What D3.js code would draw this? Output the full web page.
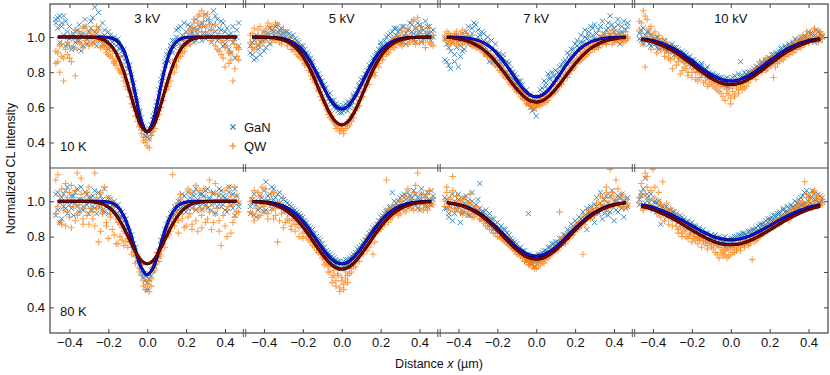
<!DOCTYPE html>
<html>
<head>
<meta charset="utf-8">
<script src="https://cdn.jsdelivr.net/npm/d3@7"></script>
<style>
  body { margin: 0; background: #fff; }
  text { font-family: "Liberation Sans", Arial, sans-serif; fill: #111; }
</style>
</head>
<body>
<svg width="830" height="375"></svg>
<script>
// ---- data ----
var voltages = ["3 kV", "5 kV", "7 kV", "10 kV"];
var temps = ["10 K", "80 K"];
var xTicks = [-0.4, -0.2, 0, 0.2, 0.4];
var yTicks = [0.4, 0.6, 0.8, 1.0];

// scan positions (µm); two line scans per series share them
var xs = [
  -0.47,-0.46,-0.45,-0.44,-0.43,-0.42,-0.41,-0.40,-0.39,-0.38,-0.37,-0.36,-0.35,-0.34,-0.33,-0.32,-0.31,-0.30,-0.29,
  -0.28,-0.27,-0.26,-0.25,-0.24,-0.23,-0.22,-0.21,-0.20,-0.19,-0.18,-0.17,-0.16,-0.15,-0.14,-0.13,-0.12,-0.11,-0.10,
  -0.09,-0.08,-0.07,-0.06,-0.05,-0.04,-0.03,-0.02,-0.01,0,0.01,0.02,0.03,0.04,0.05,0.06,0.07,0.08,0.09,
  0.10,0.11,0.12,0.13,0.14,0.15,0.16,0.17,0.18,0.19,0.20,0.21,0.22,0.23,0.24,0.25,0.26,0.27,0.28,
  0.29,0.30,0.31,0.32,0.33,0.34,0.35,0.36,0.37,0.38,0.39,0.40,0.41,0.42,0.43,0.44,0.45,0.46,0.47
];

// ===== 10 K =====
var gan10K_3kV = [
  1.08,1.11,0.97,1.06,1.12,0.95,1.03,0.99,0.93,1.02,0.97,1.04,0.98,1.01,0.95,1.06,0.99,1.03,1.09,
  0.97,1.17,1.02,1.05,0.98,1.08,1.01,0.96,1.03,0.99,0.97,1.00,0.95,0.96,0.93,0.92,0.90,0.86,0.84,
  0.80,0.75,0.70,0.65,0.60,0.57,0.50,0.47,0.44,0.47,0.42,0.50,0.53,0.56,0.63,0.66,0.73,0.80,0.84,
  0.87,0.92,0.95,0.91,0.98,1.04,0.96,1.06,1.01,0.97,1.03,1.07,0.99,1.02,1.05,0.98,1.04,1.00,1.08,
  1.02,0.99,1.10,1.04,1.01,1.07,1.12,0.98,1.05,1.09,0.95,1.03,0.99,0.93,1.02,0.97,0.88,1.00,0.95
];
var gan10K_3kV_B = [
  1.10,1.05,1.12,1.08,1.01,1.09,0.96,1.06,1.00,0.94,1.03,0.98,1.07,0.92,1.02,1.10,0.96,1.00,1.05,
  1.11,1.03,0.95,1.14,1.00,0.96,1.04,0.99,0.93,1.01,0.95,0.98,0.92,0.99,0.94,0.89,0.93,0.88,0.82,
  0.84,0.79,0.74,0.69,0.64,0.58,0.54,0.49,0.46,0.43,0.48,0.45,0.55,0.59,0.61,0.70,0.76,0.77,0.86,
  0.90,0.86,0.93,0.98,0.94,1.00,1.05,0.99,0.95,1.08,1.00,0.96,1.06,1.03,0.97,1.10,1.02,1.06,0.98,
  1.06,1.13,1.01,1.08,0.97,1.15,1.03,1.10,0.99,1.04,1.08,0.96,1.05,1.01,0.91,1.06,0.99,1.04,1.08
];
var qw10K_3kV = [
  0.92,0.86,0.95,0.89,0.75,0.93,0.97,0.88,1.01,0.94,0.78,0.99,1.03,0.96,1.05,0.98,1.02,0.95,1.04,
  1.00,0.97,1.06,0.99,0.94,0.98,0.95,0.93,0.90,0.94,0.88,0.85,0.87,0.82,0.80,0.79,0.75,0.72,0.70,
  0.66,0.62,0.60,0.55,0.52,0.49,0.45,0.43,0.40,0.44,0.37,0.47,0.46,0.51,0.53,0.58,0.60,0.66,0.70,
  0.74,0.72,0.79,0.83,0.80,0.86,0.91,0.89,0.95,0.92,0.98,1.02,0.96,1.05,1.08,1.01,1.12,1.06,1.15,
  1.09,1.03,1.13,1.07,0.98,1.04,0.95,1.00,0.92,0.97,0.88,0.94,0.99,0.85,0.91,0.75,0.96,0.89,0.93
];
var qw10K_3kV_B = [
  0.85,0.91,0.80,0.96,0.88,1.00,0.90,0.95,0.86,0.99,1.04,0.93,0.97,1.02,0.94,1.06,1.00,0.97,1.01,
  0.96,1.03,0.98,1.04,1.00,0.95,0.99,0.91,0.96,0.89,0.92,0.86,0.84,0.89,0.81,0.84,0.77,0.79,0.74,
  0.70,0.68,0.63,0.58,0.56,0.50,0.47,0.41,0.43,0.38,0.42,0.44,0.49,0.48,0.55,0.56,0.63,0.64,0.72,
  0.70,0.77,0.75,0.86,0.84,0.83,0.88,0.94,0.91,1.00,0.95,0.99,1.04,1.00,1.10,1.04,1.08,1.13,1.03,
  1.12,1.06,1.01,1.10,1.04,0.99,1.07,0.93,1.02,0.90,0.98,0.83,0.95,0.91,0.87,0.98,0.82,0.94,0.87
];
var gan10K_5kV = [
  0.95,0.90,0.98,0.88,0.93,0.97,1.00,0.92,0.99,1.02,0.96,1.04,1.01,1.06,1.03,0.99,1.05,1.02,1.00,
  1.03,0.98,1.00,0.96,0.99,0.94,0.97,0.92,0.95,0.90,0.91,0.86,0.88,0.83,0.82,0.78,0.79,0.74,0.75,
  0.70,0.68,0.67,0.63,0.64,0.60,0.62,0.58,0.60,0.57,0.61,0.59,0.63,0.60,0.64,0.67,0.65,0.70,0.72,
  0.74,0.77,0.76,0.81,0.84,0.82,0.88,0.86,0.91,0.93,0.95,0.92,0.98,0.96,1.01,0.97,1.03,0.99,1.05,
  1.00,1.04,0.97,1.06,1.02,0.99,1.08,1.03,0.98,1.05,1.01,1.07,0.97,1.04,1.00,1.06,1.02,0.98,1.04
];
var gan10K_5kV_B = [
  0.91,0.97,0.87,1.01,0.95,0.90,0.98,1.03,0.94,1.00,1.05,0.99,1.03,1.00,1.07,1.04,1.01,0.98,1.03,
  0.99,1.02,0.97,1.01,0.94,0.98,0.93,0.95,0.90,0.93,0.88,0.90,0.85,0.86,0.80,0.81,0.76,0.77,0.72,
  0.73,0.71,0.65,0.68,0.62,0.64,0.59,0.61,0.57,0.60,0.58,0.62,0.58,0.63,0.61,0.66,0.68,0.67,0.73,
  0.76,0.73,0.79,0.78,0.80,0.85,0.84,0.89,0.90,0.88,0.97,0.95,0.93,1.00,0.96,1.02,0.99,1.05,1.01,
  1.03,0.97,1.06,1.01,0.96,1.04,1.00,1.07,1.02,0.97,1.08,1.03,1.05,0.99,1.09,1.01,1.06,1.03,1.00
];
var qw10K_5kV = [
  0.97,1.02,0.93,0.99,1.04,0.95,1.01,0.97,1.05,1.08,1.00,1.06,1.03,0.98,1.07,1.02,0.96,1.04,0.99,
  0.97,1.00,0.93,0.96,0.92,0.95,0.89,0.91,0.87,0.85,0.86,0.81,0.80,0.76,0.77,0.71,0.70,0.66,0.67,
  0.62,0.59,0.58,0.54,0.55,0.51,0.50,0.49,0.46,0.48,0.45,0.50,0.49,0.53,0.52,0.56,0.58,0.60,0.64,
  0.66,0.69,0.72,0.73,0.77,0.78,0.79,0.80,0.84,0.85,0.88,0.89,0.92,0.90,0.95,0.93,0.96,0.94,0.99,
  0.97,1.01,0.95,0.98,1.03,0.96,1.00,1.09,0.98,1.05,1.11,0.97,1.02,0.99,0.94,1.03,0.97,1.00,0.95
];
var qw10K_5kV_B = [
  1.01,0.94,1.05,0.96,1.00,1.06,0.98,1.03,0.99,1.02,1.06,0.97,1.04,1.08,1.01,0.97,1.03,0.99,1.02,
  0.95,0.98,0.96,0.93,0.97,0.90,0.93,0.88,0.90,0.84,0.87,0.83,0.78,0.80,0.74,0.75,0.69,0.72,0.64,
  0.64,0.61,0.56,0.57,0.53,0.52,0.48,0.50,0.47,0.50,0.47,0.48,0.51,0.50,0.55,0.54,0.59,0.62,0.61,
  0.68,0.66,0.70,0.75,0.73,0.80,0.82,0.78,0.86,0.83,0.90,0.87,0.94,0.92,0.91,0.97,0.95,0.99,0.96,
  1.00,0.96,1.04,0.98,1.01,1.05,0.97,1.02,1.10,0.96,1.03,1.00,1.06,0.97,1.02,0.99,1.05,0.96,1.01
];
var gan10K_7kV = [
  0.99,0.86,0.94,0.82,0.97,0.90,1.01,0.83,0.95,0.92,0.99,1.03,0.96,1.00,1.05,1.08,0.98,1.04,1.01,
  0.95,1.02,0.90,0.97,0.86,0.93,0.89,0.96,0.84,0.91,0.85,0.88,0.80,0.86,0.78,0.82,0.76,0.79,0.74,
  0.72,0.75,0.69,0.66,0.70,0.63,0.67,0.58,0.64,0.55,0.62,0.66,0.71,0.68,0.74,0.70,0.77,0.73,0.78,
  0.76,0.80,0.78,0.84,0.82,0.87,0.85,0.90,0.88,0.93,0.90,0.95,0.92,0.97,0.94,1.00,0.96,1.03,0.98,
  1.05,0.99,1.02,0.95,1.06,1.00,0.97,1.04,1.08,1.12,0.99,1.05,1.01,1.07,0.96,1.03,1.09,1.00,1.06
];
var gan10K_7kV_B = [
  0.87,0.96,0.84,0.92,1.00,0.86,0.94,0.98,0.89,1.02,0.93,0.97,1.06,0.99,1.02,0.96,1.07,1.00,0.95,
  1.03,0.98,0.94,1.00,0.91,0.98,0.86,0.92,0.89,0.87,0.82,0.90,0.84,0.80,0.85,0.77,0.80,0.74,0.77,
  0.75,0.70,0.73,0.68,0.65,0.62,0.60,0.64,0.59,0.63,0.66,0.70,0.67,0.75,0.72,0.79,0.76,0.80,0.74,
  0.81,0.77,0.83,0.80,0.86,0.85,0.91,0.87,0.93,0.89,0.96,0.98,0.94,1.01,0.97,1.04,0.99,1.01,1.06,
  1.01,1.07,0.98,1.04,1.00,1.09,1.02,0.97,1.05,1.01,1.07,1.03,0.98,1.10,1.02,1.06,0.99,1.04,1.08
];
var qw10K_7kV = [
  0.99,1.03,0.97,1.01,0.98,1.02,0.96,1.00,0.99,1.04,0.97,0.98,1.01,0.96,0.99,0.95,0.97,0.94,0.96,
  0.93,0.91,0.92,0.89,0.90,0.86,0.88,0.84,0.85,0.81,0.83,0.78,0.80,0.76,0.77,0.73,0.74,0.70,0.71,
  0.68,0.69,0.65,0.66,0.62,0.64,0.61,0.63,0.60,0.62,0.64,0.61,0.65,0.63,0.66,0.64,0.68,0.67,0.70,
  0.69,0.73,0.72,0.76,0.75,0.79,0.77,0.82,0.81,0.85,0.83,0.87,0.86,0.90,0.88,0.92,0.90,0.94,0.93,
  0.95,0.93,0.97,0.94,0.98,0.96,1.00,0.97,0.99,1.02,0.96,1.01,0.98,1.03,0.99,0.97,1.01,0.98,1.00
];
var qw10K_7kV_B = [
  1.01,0.98,1.02,0.96,1.00,0.97,1.03,0.98,1.01,0.96,0.99,1.02,0.97,0.98,0.95,0.98,0.94,0.96,0.93,
  0.95,0.92,0.90,0.92,0.88,0.89,0.85,0.87,0.83,0.84,0.80,0.82,0.77,0.79,0.74,0.76,0.72,0.73,0.69,
  0.70,0.66,0.68,0.64,0.66,0.62,0.64,0.61,0.63,0.60,0.62,0.64,0.62,0.66,0.63,0.67,0.66,0.69,0.68,
  0.72,0.70,0.75,0.73,0.77,0.78,0.80,0.79,0.83,0.82,0.86,0.85,0.88,0.87,0.91,0.89,0.93,0.91,0.95,
  0.93,0.96,0.95,0.99,0.97,1.01,0.98,0.96,1.02,0.99,1.04,0.97,1.00,0.98,1.02,1.00,0.97,1.03,0.99
];
var gan10K_10kV = [
  1.02,0.98,1.05,0.99,1.03,0.96,1.01,0.97,0.99,0.94,0.98,0.95,0.97,0.93,0.96,0.92,0.95,0.91,0.94,
  0.90,0.93,0.89,0.92,0.87,0.90,0.86,0.89,0.84,0.87,0.83,0.85,0.82,0.84,0.80,0.82,0.78,0.80,0.77,
  0.79,0.76,0.78,0.74,0.77,0.73,0.76,0.72,0.75,0.74,0.77,0.73,0.76,0.75,0.86,0.77,0.75,0.79,0.77,
  0.80,0.78,0.82,0.80,0.83,0.81,0.85,0.83,0.86,0.84,0.88,0.86,0.90,0.87,0.91,0.89,0.93,0.91,0.94,
  0.92,0.95,0.93,0.96,0.94,0.97,0.95,0.98,0.96,1.00,0.97,0.99,1.02,0.98,1.01,0.99,1.03,0.98,1.00
];
var gan10K_10kV_B = [
  0.99,1.04,0.96,1.01,0.98,1.03,0.95,0.99,0.96,1.00,0.93,0.97,0.94,0.98,0.92,0.95,0.93,0.96,0.90,
  0.94,0.91,0.88,0.90,0.91,0.87,0.88,0.85,0.87,0.83,0.86,0.81,0.83,0.85,0.79,0.81,0.83,0.77,0.79,
  0.77,0.78,0.75,0.77,0.74,0.76,0.73,0.77,0.72,0.76,0.74,0.78,0.74,0.79,0.77,0.78,0.80,0.76,0.80,
  0.78,0.81,0.80,0.83,0.81,0.84,0.86,0.82,0.87,0.85,0.88,0.90,0.87,0.91,0.88,0.92,0.94,0.90,0.95,
  0.93,0.96,0.94,0.97,0.99,0.95,0.98,1.00,0.97,1.01,0.98,1.03,0.99,1.02,0.97,1.04,1.00,1.02,1.01
];
var qw10K_10kV = [
  1.04,1.08,1.15,0.83,1.10,1.02,1.06,0.99,1.03,0.97,1.01,0.95,0.99,0.93,0.97,0.88,0.94,0.82,0.91,
  0.84,0.89,0.79,0.87,0.83,0.85,0.78,0.84,0.80,0.82,0.76,0.80,0.77,0.79,0.74,0.78,0.72,0.76,0.74,
  0.72,0.75,0.70,0.73,0.68,0.72,0.64,0.70,0.67,0.62,0.69,0.66,0.71,0.68,0.73,0.70,0.75,0.72,0.78,
  0.76,0.80,0.78,0.82,0.79,0.86,0.80,0.84,0.88,0.82,0.86,0.84,0.77,0.87,0.85,0.89,0.88,0.91,0.89,
  0.93,0.90,0.94,0.91,0.95,0.93,0.97,0.94,0.98,0.96,1.00,0.97,1.02,0.99,1.04,0.98,1.03,1.00,0.99
];
var qw10K_10kV_B = [
  1.09,1.02,0.96,1.12,1.00,1.05,0.93,1.01,0.97,0.91,0.99,0.93,0.96,0.89,0.94,0.91,0.87,0.93,0.88,
  0.91,0.86,0.88,0.81,0.86,0.82,0.80,0.86,0.77,0.83,0.80,0.75,0.81,0.77,0.80,0.75,0.77,0.73,0.77,
  0.75,0.71,0.74,0.69,0.72,0.66,0.73,0.68,0.71,0.65,0.72,0.67,0.74,0.70,0.72,0.74,0.71,0.76,0.74,
  0.79,0.77,0.81,0.76,0.80,0.83,0.82,0.85,0.81,0.87,0.84,0.89,0.86,0.83,0.88,0.86,0.91,0.87,0.92,
  0.90,0.95,0.92,0.96,0.93,0.98,0.95,1.00,0.96,0.99,1.03,0.97,1.01,0.98,1.05,1.00,0.97,1.03,1.01
];

// ===== 80 K =====
var gan80K_3kV = [
  1.04,0.95,0.88,1.02,0.97,1.06,0.93,1.00,0.96,1.03,0.99,1.07,0.94,1.01,0.97,1.05,0.98,1.02,0.95,
  1.03,0.96,1.00,1.05,0.97,1.01,0.94,0.99,1.02,0.96,0.98,0.94,0.97,0.93,0.95,0.91,0.92,0.87,0.85,
  0.83,0.78,0.76,0.70,0.67,0.64,0.60,0.57,0.55,0.50,0.56,0.58,0.61,0.63,0.67,0.72,0.75,0.80,0.84,
  0.87,0.90,0.89,0.94,0.92,0.98,0.95,1.00,0.97,1.03,0.99,0.96,1.02,0.98,1.05,0.95,1.01,0.97,1.04,
  0.99,1.06,0.96,1.02,0.98,1.04,0.93,1.00,1.07,0.97,1.03,0.95,1.01,1.08,0.98,1.04,0.92,1.00,0.97
];
var gan80K_3kV_B = [
  0.92,1.05,0.99,0.90,1.04,0.96,1.08,0.98,1.03,0.92,1.05,0.97,1.01,1.08,0.95,1.00,1.04,0.93,1.02,
  0.97,1.06,0.93,0.99,1.03,0.95,1.07,0.97,0.93,1.01,0.96,1.00,0.93,0.98,0.91,0.94,0.89,0.90,0.84,
  0.80,0.81,0.73,0.74,0.69,0.66,0.63,0.59,0.58,0.54,0.59,0.61,0.64,0.66,0.70,0.69,0.78,0.77,0.81,
  0.84,0.88,0.93,0.91,0.97,0.94,1.00,0.96,1.04,0.98,0.94,1.05,1.00,0.96,1.03,1.07,0.99,1.04,0.95,
  1.03,0.98,1.07,1.01,0.95,1.05,1.00,0.97,1.03,1.06,0.98,1.02,0.94,1.05,1.00,0.96,1.07,1.03,0.99
];
var qw80K_3kV = [
  0.93,1.15,0.88,1.07,0.95,0.86,1.02,0.91,1.09,0.97,0.89,1.16,0.94,1.04,0.87,1.01,0.92,1.08,0.96,
  0.90,1.16,0.96,0.77,1.05,0.93,0.99,0.86,1.02,0.91,0.84,0.97,0.76,0.88,0.80,0.85,0.75,0.82,0.79,
  0.77,0.74,0.71,0.69,0.66,0.62,0.58,0.55,0.50,0.53,0.49,0.56,0.60,0.64,0.68,0.66,0.72,0.76,0.80,
  0.84,0.81,0.90,1.15,0.86,0.95,0.89,1.02,0.93,0.85,0.98,0.91,1.05,0.87,0.96,1.09,0.83,1.00,0.92,
  1.07,0.88,0.97,1.12,0.84,0.99,0.93,1.04,0.89,0.75,1.01,0.86,0.95,1.08,0.82,0.98,0.91,1.03,0.94
];
var qw80K_3kV_B = [
  1.12,0.97,1.03,0.87,0.99,1.10,0.94,1.05,0.85,1.00,1.06,0.92,0.98,1.13,0.90,0.96,1.05,0.87,1.01,
  0.94,0.86,1.02,0.97,0.83,0.95,1.08,0.88,0.79,0.93,0.99,0.81,0.90,0.76,0.87,0.78,0.83,0.77,0.74,
  0.80,0.70,0.74,0.65,0.69,0.60,0.64,0.52,0.57,0.50,0.55,0.52,0.63,0.61,0.71,0.70,0.69,0.79,0.74,
  0.80,0.87,0.83,0.92,0.88,0.97,0.82,1.04,0.90,0.96,0.86,1.07,0.93,0.84,1.00,0.89,0.95,1.06,0.85,
  0.96,1.02,0.90,0.94,1.05,0.88,1.10,0.96,0.83,1.00,0.92,1.06,0.80,0.97,1.03,0.88,1.08,0.94,0.99
];
var gan80K_5kV = [
  0.97,1.01,0.92,0.98,0.95,1.03,0.99,0.94,1.11,1.00,1.04,0.96,1.07,1.02,0.98,1.05,0.97,1.01,0.95,
  0.99,0.93,0.97,0.91,0.95,0.90,0.93,0.88,0.91,0.86,0.88,0.83,0.85,0.80,0.82,0.77,0.79,0.74,0.76,
  0.71,0.72,0.68,0.70,0.66,0.68,0.64,0.66,0.62,0.65,0.63,0.67,0.64,0.68,0.66,0.70,0.69,0.73,0.71,
  0.75,0.74,0.78,0.80,0.79,0.83,0.82,0.86,0.85,0.89,0.88,0.92,0.90,0.94,0.92,0.96,1.05,0.97,0.99,
  0.95,1.02,0.97,1.04,0.99,0.96,1.03,1.00,1.06,0.98,1.02,0.95,1.04,1.00,0.97,1.05,1.01,0.98,1.03
];
var gan80K_5kV_B = [
  0.93,0.99,1.04,0.91,1.00,0.96,1.02,1.06,0.95,1.03,0.99,1.08,1.01,0.97,1.04,0.99,1.02,0.96,1.00,
  0.95,0.98,0.94,0.96,0.91,0.94,0.89,0.92,0.86,0.89,0.84,0.86,0.81,0.84,0.78,0.80,0.76,0.78,0.72,
  0.74,0.69,0.71,0.66,0.69,0.64,0.67,0.63,0.66,0.62,0.66,0.64,0.67,0.65,0.69,0.67,0.71,0.70,0.74,
  0.72,0.77,0.76,0.78,0.82,0.80,0.85,0.84,0.87,0.86,0.91,0.89,0.93,0.95,0.91,0.97,0.94,1.00,0.96,
  1.00,0.97,1.03,0.98,1.01,1.05,0.97,1.02,0.99,1.04,0.96,1.01,1.07,0.99,1.03,0.97,1.00,1.06,1.01
];
var qw80K_5kV = [
  0.94,1.02,0.89,0.99,1.05,0.92,1.08,0.97,1.01,0.93,0.98,1.04,0.90,0.96,0.77,0.99,0.93,1.02,0.88,
  0.95,0.89,0.84,0.92,0.87,0.91,0.85,0.88,0.82,0.86,0.80,0.83,0.77,0.80,0.74,0.76,0.71,0.73,0.68,
  0.67,0.65,0.63,0.60,0.54,0.58,0.52,0.59,0.49,0.57,0.53,0.60,0.58,0.62,0.64,0.63,0.67,0.66,0.69,
  0.71,0.73,0.75,0.72,0.78,0.76,0.70,0.82,0.84,0.83,0.87,0.86,0.90,1.12,0.88,0.93,0.91,0.96,0.94,
  0.97,0.93,1.00,0.95,1.03,0.97,1.01,0.96,1.05,0.99,1.16,0.98,1.02,0.95,1.00,1.04,0.97,1.01,0.98
];
var qw80K_5kV_B = [
  1.00,0.93,1.06,0.96,0.91,1.03,0.98,0.94,1.07,0.90,1.01,0.95,1.05,0.92,0.99,0.89,0.96,0.85,0.94,
  0.90,0.93,0.86,0.89,0.83,0.87,0.80,0.90,0.79,0.83,0.85,0.78,0.81,0.75,0.78,0.72,0.75,0.70,0.72,
  0.64,0.68,0.60,0.64,0.57,0.61,0.55,0.58,0.51,0.55,0.50,0.56,0.54,0.59,0.60,0.65,0.63,0.68,0.66,
  0.74,0.70,0.77,0.79,0.74,0.82,0.80,0.77,0.86,0.88,0.84,0.90,0.87,0.92,0.96,0.90,0.95,0.93,0.98,
  0.92,1.00,0.96,1.03,0.94,1.07,0.99,1.02,0.95,1.09,1.01,0.96,1.04,0.98,1.02,0.95,1.06,0.99,1.02
];
var gan80K_7kV = [
  1.02,0.96,0.91,0.99,1.04,0.93,0.97,1.01,0.88,0.95,0.99,1.03,0.92,0.97,1.00,0.94,0.98,0.95,1.10,
  0.91,0.94,0.88,0.92,0.86,0.90,0.84,0.87,0.83,0.85,0.81,0.84,0.79,0.82,0.77,0.79,0.74,0.77,0.72,
  0.73,0.70,0.72,0.68,0.70,0.93,0.67,0.65,0.69,0.66,0.70,0.68,0.71,0.69,0.72,0.71,0.74,0.72,0.76,
  0.74,0.77,0.75,0.79,0.77,0.81,0.79,0.83,0.82,0.86,0.84,0.88,0.86,0.90,0.89,0.92,0.84,0.94,0.91,
  0.95,0.88,0.97,0.93,0.99,0.90,1.01,0.95,0.92,1.03,0.97,0.89,1.00,0.94,1.02,0.96,0.91,0.99,0.97
];
var gan80K_7kV_B = [
  0.96,1.01,0.93,0.97,0.89,1.00,0.95,1.04,0.98,0.93,1.02,0.96,1.00,0.92,1.05,0.97,0.93,1.01,0.96,
  0.94,0.90,0.95,0.89,0.93,0.87,0.90,0.85,0.88,0.83,0.86,0.80,0.84,0.78,0.81,0.76,0.78,0.73,0.76,
  0.71,0.74,0.69,0.72,0.66,0.70,0.65,0.68,0.63,0.67,0.66,0.70,0.67,0.72,0.70,0.74,0.71,0.76,0.73,
  0.77,0.74,0.79,0.76,0.81,0.80,0.84,0.82,0.87,0.84,0.89,0.85,0.91,0.88,0.94,0.90,0.96,0.93,0.97,
  0.92,0.98,1.02,0.94,1.05,0.97,0.93,1.03,0.99,0.94,1.06,1.00,0.95,1.03,0.98,1.04,1.00,0.96,1.02
];
var qw80K_7kV = [
  1.00,1.05,0.97,1.02,1.14,0.96,1.03,0.99,0.94,1.01,0.97,0.93,0.99,1.04,0.95,0.91,0.97,0.93,0.90,
  0.92,0.89,0.91,0.86,0.88,0.84,0.86,0.82,0.85,0.80,0.82,0.78,0.80,0.76,0.78,0.74,0.75,0.72,0.73,
  0.70,0.72,0.68,0.69,0.66,0.67,0.64,0.66,0.62,0.65,0.63,0.67,0.66,0.68,0.67,0.70,0.69,0.71,0.73,
  0.72,0.75,0.94,0.76,0.78,0.77,0.80,0.79,0.82,0.84,0.83,0.86,0.85,0.88,0.70,0.89,0.90,0.92,0.91,
  0.94,0.92,0.96,0.95,0.98,1.02,0.96,1.05,0.99,1.18,0.97,1.03,1.00,1.07,0.98,1.02,0.96,1.01,0.99
];
var qw80K_7kV_B = [
  0.97,1.08,1.01,0.95,1.06,0.99,1.03,0.96,1.00,0.93,1.02,0.97,0.94,0.99,0.91,0.96,0.93,0.95,0.90,
  0.89,0.93,0.86,0.90,0.84,0.87,0.82,0.85,0.80,0.83,0.79,0.81,0.77,0.79,0.75,0.77,0.73,0.74,0.70,
  0.72,0.69,0.70,0.66,0.68,0.64,0.66,0.63,0.67,0.62,0.66,0.64,0.69,0.65,0.70,0.68,0.72,0.70,0.74,
  0.74,0.72,0.76,0.75,0.79,0.76,0.81,0.80,0.84,0.81,0.86,0.84,0.88,0.86,0.91,0.87,0.92,0.95,0.90,
  0.96,0.93,0.99,0.95,1.03,0.97,1.00,1.08,0.96,1.02,1.05,0.98,1.12,1.01,0.97,1.04,0.99,1.02,0.97
];
var gan80K_10kV = [
  1.01,1.05,0.97,1.13,1.02,0.99,1.04,0.96,1.00,0.94,0.98,0.87,0.96,0.93,0.97,0.92,0.95,0.90,0.94,
  0.91,0.88,0.92,0.87,0.90,0.86,0.89,0.85,0.88,0.84,0.86,0.83,0.85,0.81,0.84,0.80,0.82,0.78,0.81,
  0.79,0.81,0.77,0.80,0.76,0.79,0.74,0.78,0.75,0.79,0.77,0.80,0.76,0.81,0.78,0.82,0.80,0.79,0.83,
  0.81,0.84,0.82,0.85,0.83,0.87,0.84,0.88,0.86,0.90,0.87,0.91,0.89,0.92,0.90,0.93,0.91,0.95,0.92,
  0.94,0.96,0.93,0.97,0.95,0.99,0.96,1.02,0.98,1.05,0.97,1.03,0.99,1.06,1.01,0.98,1.04,0.99,1.02
];
var gan80K_10kV_B = [
  0.98,1.03,1.07,0.99,1.04,0.97,1.01,0.95,0.99,0.96,1.00,0.93,0.97,0.94,0.91,0.95,0.92,0.94,0.90,
  0.93,0.90,0.89,0.91,0.86,0.88,0.85,0.87,0.83,0.86,0.82,0.84,0.81,0.83,0.80,0.82,0.79,0.80,0.78,
  0.80,0.78,0.79,0.76,0.78,0.77,0.80,0.76,0.78,0.77,0.79,0.78,0.80,0.79,0.81,0.80,0.82,0.81,0.80,
  0.83,0.81,0.84,0.83,0.86,0.85,0.87,0.86,0.89,0.88,0.90,0.89,0.92,0.91,0.93,0.94,0.92,0.96,0.94,
  0.97,0.93,0.98,0.96,1.00,0.97,1.01,0.98,1.03,0.99,1.06,1.00,1.02,0.98,1.04,1.01,0.99,1.03,1.00
];
var qw80K_10kV = [
  0.99,1.03,0.96,1.16,1.08,1.01,0.97,1.18,1.02,0.95,1.05,0.98,1.11,0.94,0.99,0.92,0.96,0.90,0.93,
  0.89,0.84,0.88,0.82,0.86,0.80,0.85,0.81,0.83,0.79,0.82,0.80,0.78,0.81,0.77,0.79,0.75,0.78,0.76,
  0.76,0.71,0.75,0.68,0.74,0.72,0.70,0.73,0.69,0.74,0.71,0.75,0.72,0.76,0.74,0.77,0.75,0.78,0.76,
  0.78,0.67,0.80,0.78,0.82,0.80,0.84,0.82,0.85,0.83,0.86,0.85,0.88,0.86,0.89,0.87,0.90,0.89,0.92,
  0.90,0.93,0.91,0.95,0.93,0.97,0.94,0.99,0.96,1.11,0.98,1.02,0.97,1.05,0.99,1.03,0.97,1.01,0.98
];
var qw80K_10kV_B = [
  1.02,1.10,0.95,1.04,1.14,0.98,1.06,0.96,1.08,0.93,1.00,0.91,0.97,0.89,0.95,0.87,0.92,0.86,0.90,
  0.86,0.82,0.85,0.80,0.83,0.84,0.79,0.82,0.77,0.80,0.78,0.76,0.79,0.74,0.78,0.76,0.73,0.77,0.74,
  0.73,0.76,0.70,0.74,0.71,0.69,0.72,0.68,0.73,0.70,0.74,0.71,0.73,0.75,0.72,0.76,0.74,0.77,0.75,
  0.76,0.79,0.77,0.81,0.79,0.82,0.81,0.84,0.83,0.86,0.84,0.87,0.85,0.89,0.87,0.90,0.88,0.91,0.90,
  0.92,0.89,0.94,0.92,0.96,0.94,0.98,0.95,1.00,0.97,1.04,0.99,1.02,0.96,1.06,1.00,1.03,0.99,1.01
];

// fitted profiles, sampled at fitXs (left half down to x = 0; the fits are symmetric)
var fitXs = [-0.46,-0.42,-0.38,-0.34,-0.30,-0.27,-0.24,-0.21,-0.18,-0.15,-0.12,-0.09,-0.06,-0.03,0,
             0.03,0.06,0.09,0.12,0.15,0.18,0.21,0.24,0.27,0.30,0.34,0.38,0.42,0.46];
var fitGan10K_3kV  = [1,1,1,1,1,1,1,0.999,0.993,0.974,0.922,0.818,0.667,0.522,0.46];
var fitQw10K_3kV   = [1,1,1,1,0.999,0.997,0.99,0.975,0.943,0.886,0.801,0.692,0.579,0.492,0.46];
var fitGan10K_5kV  = [1,1,0.999,0.997,0.99,0.98,0.962,0.934,0.893,0.838,0.774,0.707,0.647,0.605,0.59];
var fitQw10K_5kV   = [1,0.999,0.998,0.994,0.983,0.968,0.943,0.906,0.853,0.787,0.71,0.632,0.564,0.517,0.50];
var fitGan10K_7kV  = [1,0.999,0.997,0.992,0.981,0.967,0.946,0.917,0.879,0.834,0.785,0.738,0.697,0.67,0.66];
var fitQw10K_7kV   = [0.997,0.993,0.985,0.972,0.95,0.927,0.897,0.861,0.82,0.775,0.731,0.691,0.658,0.637,0.63];
var fitGan10K_10kV = [0.99,0.984,0.973,0.958,0.938,0.919,0.897,0.873,0.848,0.823,0.80,0.779,0.764,0.753,0.75];
var fitQw10K_10kV  = [0.986,0.977,0.963,0.945,0.922,0.902,0.878,0.853,0.828,0.802,0.779,0.759,0.743,0.733,0.73];
var fitGan80K_3kV  = [1,1,1,1,1,1,1,0.997,0.989,0.966,0.916,0.831,0.721,0.623,0.583];
var fitQw80K_3kV   = [1,1,1,1,0.998,0.995,0.988,0.974,0.948,0.906,0.849,0.781,0.714,0.664,0.646];
var fitGan80K_5kV  = [0.999,0.998,0.994,0.987,0.973,0.956,0.932,0.90,0.86,0.814,0.766,0.719,0.681,0.655,0.646];
var fitQw80K_5kV   = [0.998,0.995,0.989,0.977,0.957,0.935,0.906,0.869,0.826,0.778,0.73,0.685,0.648,0.624,0.616];
var fitGan80K_7kV  = [0.993,0.986,0.976,0.96,0.937,0.915,0.888,0.858,0.825,0.792,0.76,0.731,0.709,0.695,0.69];
var fitQw80K_7kV   = [0.992,0.985,0.973,0.956,0.931,0.907,0.879,0.848,0.813,0.778,0.745,0.716,0.693,0.678,0.673];
var fitGan80K_10kV = [0.98,0.971,0.958,0.941,0.921,0.905,0.887,0.868,0.849,0.831,0.815,0.801,0.791,0.784,0.782];
var fitQw80K_10kV  = [0.972,0.96,0.945,0.925,0.903,0.884,0.864,0.844,0.824,0.805,0.788,0.774,0.763,0.756,0.754];

// panel order: 10 K row (3,5,7,10 kV) then 80 K row
var panels = [
  [[gan10K_3kV, gan10K_3kV_B], [qw10K_3kV, qw10K_3kV_B], fitGan10K_3kV, fitQw10K_3kV],
  [[gan10K_5kV, gan10K_5kV_B], [qw10K_5kV, qw10K_5kV_B], fitGan10K_5kV, fitQw10K_5kV],
  [[gan10K_7kV, gan10K_7kV_B], [qw10K_7kV, qw10K_7kV_B], fitGan10K_7kV, fitQw10K_7kV],
  [[gan10K_10kV, gan10K_10kV_B], [qw10K_10kV, qw10K_10kV_B], fitGan10K_10kV, fitQw10K_10kV],
  [[gan80K_3kV, gan80K_3kV_B], [qw80K_3kV, qw80K_3kV_B], fitGan80K_3kV, fitQw80K_3kV],
  [[gan80K_5kV, gan80K_5kV_B], [qw80K_5kV, qw80K_5kV_B], fitGan80K_5kV, fitQw80K_5kV],
  [[gan80K_7kV, gan80K_7kV_B], [qw80K_7kV, qw80K_7kV_B], fitGan80K_7kV, fitQw80K_7kV],
  [[gan80K_10kV, gan80K_10kV_B], [qw80K_10kV, qw80K_10kV_B], fitGan80K_10kV, fitQw80K_10kV]
];

// ---- layout ----
var svg = d3.select("svg"),
    plotL = 50, plotR = 828, plotT = 4, plotM = 168, plotB = 333,
    pw = (plotR - plotL) / 4,
    rowTop = [plotT, plotM], rowBot = [plotM, plotB];

var frameColor = "#444";
var ganColor = "#1f77b4", qwColor = "#ff7f0e";
var crossPath = "M-2.6,-2.6L2.6,2.6M-2.6,2.6L2.6,-2.6";
var plusPath = "M-3.3,0L3.3,0M0,-3.3L0,3.3";

function mirror(half) {
  return half.concat(half.slice(0, -1).reverse());
}

var defs = svg.append("defs");
[0, 1].forEach(function(r) {
  defs.append("clipPath").attr("id", "clip" + r)
    .append("rect")
    .attr("x", plotL).attr("y", rowTop[r])
    .attr("width", plotR - plotL).attr("height", rowBot[r] - rowTop[r]);
});

function scanPoints(scans) {
  var pts = [];
  scans.forEach(function(s) {
    s.forEach(function(v, k) { pts.push([xs[k], v]); });
  });
  return pts;
}

panels.forEach(function(p, i) {
  var r = Math.floor(i / 4), c = i % 4;
  var x = d3.scaleLinear().domain([-0.5, 0.5]).range([plotL + c * pw, plotL + (c + 1) * pw]);
  var y = d3.scaleLinear().domain([0.255, 1.188]).range([rowBot[r], rowTop[r]]);

  var g = svg.append("g").attr("clip-path", "url(#clip" + r + ")");

  g.append("g").selectAll("path")
    .data(scanPoints(p[0]))
    .enter().append("path")
    .attr("d", crossPath)
    .attr("transform", function(d) { return "translate(" + x(d[0]) + "," + y(d[1]) + ")"; })
    .attr("stroke", ganColor).attr("stroke-width", 1).attr("stroke-opacity", 0.85);

  g.append("g").selectAll("path")
    .data(scanPoints(p[1]))
    .enter().append("path")
    .attr("d", plusPath)
    .attr("transform", function(d) { return "translate(" + x(d[0]) + "," + y(d[1]) + ")"; })
    .attr("stroke", qwColor).attr("stroke-width", 1.1).attr("stroke-opacity", 0.75);

  var line = d3.line()
    .x(function(d) { return x(d[0]); })
    .y(function(d) { return y(d[1]); })
    .curve(d3.curveCatmullRom.alpha(0.5));

  var fits = [[p[2], "#000050", "#0a12ea"], [p[3], "#200000", "#880000"]];
  fits.forEach(function(f) {
    var full = mirror(f[0]);
    var pts = fitXs.map(function(d, k) { return [d, full[k]]; });
    g.append("path").attr("d", line(pts)).attr("fill", "none")
      .attr("stroke", f[1]).attr("stroke-width", 3.1);
    g.append("path").attr("d", line(pts)).attr("fill", "none")
      .attr("stroke", f[2]).attr("stroke-width", 1.8);
  });

  // inward ticks
  if (r === 0) {
    svg.append("g").attr("transform", "translate(0," + plotT + ")")
      .call(d3.axisTop(x).tickValues(xTicks).tickSizeInner(-4).tickSizeOuter(0).tickFormat(""))
      .call(function(a) { a.select(".domain").remove(); a.selectAll("line").attr("stroke", frameColor); });
  } else {
    var ax = svg.append("g").attr("transform", "translate(0," + plotB + ")")
      .call(d3.axisBottom(x).tickValues(xTicks).tickSizeInner(-4).tickSizeOuter(0)
        .tickPadding(5).tickFormat(d3.format(".1f")));
    ax.select(".domain").remove();
    ax.selectAll("line").attr("stroke", frameColor);
    ax.selectAll("text").attr("font-size", 13).attr("font-family", null).attr("fill", "#111");
  }
  if (c === 0) {
    var ay = svg.append("g").attr("transform", "translate(" + plotL + ",0)")
      .call(d3.axisLeft(y).tickValues(yTicks).tickSizeInner(-4).tickSizeOuter(0)
        .tickPadding(5).tickFormat(d3.format(".1f")));
    ay.select(".domain").remove();
    ay.selectAll("line").attr("stroke", frameColor);
    ay.selectAll("text").attr("font-size", 13).attr("font-family", null).attr("fill", "#111");
  }
  if (c === 3) {
    svg.append("g").attr("transform", "translate(" + plotR + ",0)")
      .call(d3.axisRight(y).tickValues(yTicks).tickSizeInner(-4).tickSizeOuter(0).tickFormat(""))
      .call(function(a) { a.select(".domain").remove(); a.selectAll("line").attr("stroke", frameColor); });
  }

  if (r === 0) {
    svg.append("text").attr("x", x(0)).attr("y", 23)
      .attr("text-anchor", "middle").attr("font-size", 13).text(voltages[c]);
  }
  if (c === 0) {
    svg.append("text").attr("x", 60).attr("y", r === 0 ? 151 : 316)
      .attr("font-size", 13).text(temps[r]);
  }
});

// frame
svg.append("rect").attr("x", plotL).attr("y", plotT)
  .attr("width", plotR - plotL).attr("height", plotB - plotT)
  .attr("fill", "none").attr("stroke", frameColor).attr("stroke-width", 1.2);
svg.append("line").attr("x1", plotL).attr("x2", plotR).attr("y1", plotM).attr("y2", plotM)
  .attr("stroke", frameColor).attr("stroke-width", 1.2);

// axis-break marks between panels
[1, 2, 3].forEach(function(c) {
  var bx = plotL + c * pw;
  [plotT, plotM, plotB].forEach(function(by) {
    [-1.2, 1.2].forEach(function(dx) {
      svg.append("line")
        .attr("x1", bx + dx).attr("x2", bx + dx)
        .attr("y1", by - 4).attr("y2", by + 4)
        .attr("stroke", "#555").attr("stroke-width", 1);
    });
  });
});

// legend
var legend = svg.append("g");
legend.append("path").attr("d", crossPath).attr("transform", "translate(233,127)")
  .attr("stroke", ganColor).attr("stroke-width", 1.1);
legend.append("text").attr("x", 244).attr("y", 131.5).attr("font-size", 13).text("GaN");
legend.append("path").attr("d", plusPath).attr("transform", "translate(233,146)")
  .attr("stroke", qwColor).attr("stroke-width", 1.2);
legend.append("text").attr("x", 244).attr("y", 150.5).attr("font-size", 13).text("QW");

// axis titles
svg.append("text")
  .attr("transform", "translate(15," + ((plotT + plotB) / 2) + ") rotate(-90)")
  .attr("text-anchor", "middle").attr("font-size", 12.5)
  .text("Normalized CL intensity");

var xt = svg.append("text").attr("x", (plotL + plotR) / 2).attr("y", 368)
  .attr("text-anchor", "middle").attr("font-size", 12.5);
xt.append("tspan").text("Distance ");
xt.append("tspan").attr("font-style", "italic").text("x");
xt.append("tspan").text(" (\u00b5m)");
</script>
</body>
</html>
